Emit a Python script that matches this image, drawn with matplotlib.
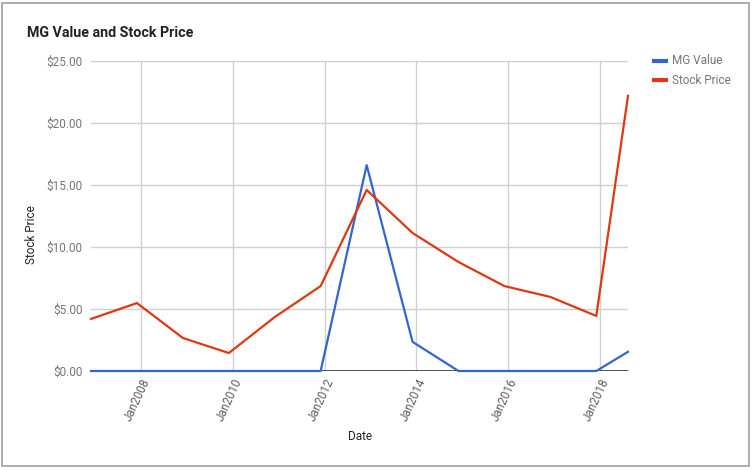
import matplotlib
matplotlib.use("Agg")
import matplotlib.pyplot as plt
import matplotlib.dates as mdates
import pandas as pd
from matplotlib.ticker import FuncFormatter, MultipleLocator
from matplotlib.lines import Line2D
from matplotlib.patches import Rectangle

plt.rcParams['font.family'] = ['Roboto', 'DejaVu Sans']

dates = ["2006-12-01", "2007-12-01", "2008-12-01", "2009-12-01", "2010-12-01",
         "2011-12-01", "2012-12-01", "2013-12-01", "2014-12-01", "2015-12-01",
         "2016-12-01", "2017-12-01", "2018-08-10"]
mg_value = [0, 0, 0, 0, 0, 0, 16.6, 2.35, 0, 0, 0, 0, 1.55]
stock_price = [4.2, 5.48, 2.66, 1.45, 4.35, 6.85, 14.6, 11.13, 8.79, 6.85, 5.97, 4.44, 22.2]
series_names = ["MG Value", "Stock Price"]
colors = ["#3366cc", "#dc3912"]

x = pd.to_datetime(dates)

fig = plt.figure(figsize=(7.53, 4.7), dpi=100)
ax = fig.add_axes([91/753, 1-371/470, (628-91)/753, (371-61)/470])

ax.plot(x, mg_value, color=colors[0], lw=1.6, solid_joinstyle='round', zorder=3, clip_on=False)
ax.plot(x, stock_price, color=colors[1], lw=1.6, solid_joinstyle='round', zorder=4, clip_on=False)

ax.set_xlim(x[0], x[-1])
ax.set_ylim(0, 25)
ax.yaxis.set_major_locator(MultipleLocator(5))
ax.yaxis.set_major_formatter(FuncFormatter(lambda v, p: f"${v:.2f}"))
ax.xaxis.set_major_locator(mdates.YearLocator(2, month=1, day=1))
ax.xaxis.set_major_formatter(mdates.DateFormatter("Jan%Y"))

ax.grid(True, color="#d0d0d0", lw=1)
ax.set_axisbelow(True)
for s in ax.spines.values():
    s.set_visible(False)
ax.axhline(0, color="#333333", lw=1.2, zorder=2)
ax.tick_params(axis='both', length=0, labelsize=8.5)
ax.tick_params(axis='y', labelcolor="#757575", pad=6)
ax.tick_params(axis='x', labelcolor="#5f5f5f", pad=4)
for lab in ax.get_xticklabels():
    lab.set_rotation(65)
    lab.set_ha('right')
    lab.set_rotation_mode('anchor')

fig.text(27/753, 1-33/470, "MG Value and Stock Price", fontsize=10.3, fontweight='bold',
         color="#222222", va='center', ha='left')
fig.text(32/753, 1-235/470, "Stock Price", fontsize=8.5, rotation=90, color="#222222",
         va='center', ha='center')
fig.text(360/753, 1-437/470, "Date", fontsize=8.5, color="#222222", va='center', ha='center')

# legend
for i, (name, c) in enumerate(zip(series_names, colors)):
    yy = 1 - (61 + 19*i)/470
    fig.add_artist(Line2D([654/753, 666/753], [yy, yy], color=c, lw=3, transform=fig.transFigure))
    fig.text(672/753, yy, name, fontsize=8.5, color="#757575", va='center', ha='left')

# outer frame
fig.add_artist(Rectangle((2/753, 4/470), 747/753, 463/470, transform=fig.transFigure,
                         fill=False, edgecolor="#9e9e9e", lw=1.2))

fig.savefig("out.png", dpi=100)
